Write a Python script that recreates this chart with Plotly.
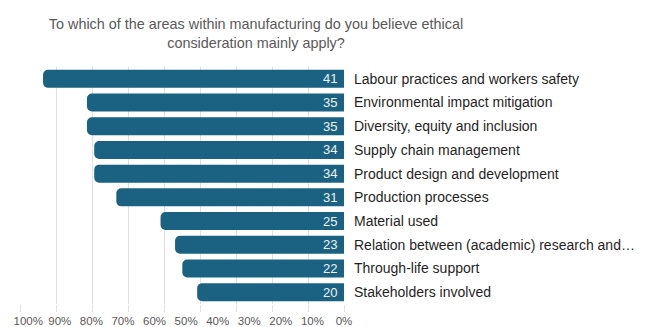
import plotly.graph_objects as go

# Data
categories = [
    "Labour practices and workers safety",
    "Environmental impact mitigation",
    "Diversity, equity and inclusion",
    "Supply chain management",
    "Product design and development",
    "Production processes",
    "Material used",
    "Relation between (academic) research and…",
    "Through-life support",
    "Stakeholders involved",
]
counts = [41, 35, 35, 34, 34, 31, 25, 23, 22, 20]
percent = [95.3, 81.4, 81.4, 79.1, 79.1, 72.1, 58.1, 53.5, 51.2, 46.5]
tick_values = [100, 90, 80, 70, 60, 50, 40, 30, 20, 10, 0]
tick_labels = ["100%", "90%", "80%", "70%", "60%", "50%", "40%", "30%", "20%", "10%", "0%"]

title_text = ("To which of the areas within manufacturing do you believe ethical"
              "<br>consideration mainly apply?")

BAR = "#1b6282"
GRID = "#e0e0e0"
FONT = "Liberation Sans, Arial, sans-serif"

fig = go.Figure()
fig.add_trace(go.Bar(
    y=categories, x=percent, orientation="h",
    text=counts, texttemplate="%{text}\u00a0",
    textposition="inside", insidetextanchor="start", constraintext="none",
    textfont=dict(family=FONT, size=13, color="#eef2f4"),
    marker=dict(color=BAR, cornerradius=5, line=dict(width=0)),
    showlegend=False, hoverinfo="skip",
))
# empty trace to carry the gridline axis
fig.add_trace(go.Scatter(x=[], y=[], xaxis="x2", yaxis="y", showlegend=False, hoverinfo="skip"))

fig.update_layout(
    width=652, height=327,
    margin=dict(l=20, r=308, t=67, b=23, autoexpand=False),
    paper_bgcolor="white", plot_bgcolor="white",
    bargap=0.24,
    uniformtext=dict(minsize=13, mode="show"),
    title=dict(text=title_text, x=256 / 652, xanchor="center", xref="container",
               y=1 - 29 / 327, yanchor="middle", yref="container", automargin=False,
               font=dict(family=FONT, size=14.4, color="#595959")),
    xaxis=dict(range=[102.6, 0], tickvals=tick_values, ticktext=tick_labels,
               showgrid=False, zeroline=False, showline=False, ticks="",
               ticklabelstandoff=8, automargin=False,
               tickfont=dict(family=FONT, size=11.5, color="#595959")),
    xaxis2=dict(overlaying="x", anchor="y", side="bottom", range=[9.02, 0], dtick=1, tick0=0,
                showgrid=True, gridcolor=GRID, gridwidth=1, zeroline=False, automargin=False,
                showticklabels=False, ticks="outside", ticklen=7, tickcolor=GRID, showline=False),
    yaxis=dict(side="right", autorange="reversed", showgrid=False, zeroline=False,
               ticks="", ticklabelstandoff=9, automargin=False,
               tickfont=dict(family=FONT, size=14, color="#1f1f1f")),
)

fig.write_html("out.html")
